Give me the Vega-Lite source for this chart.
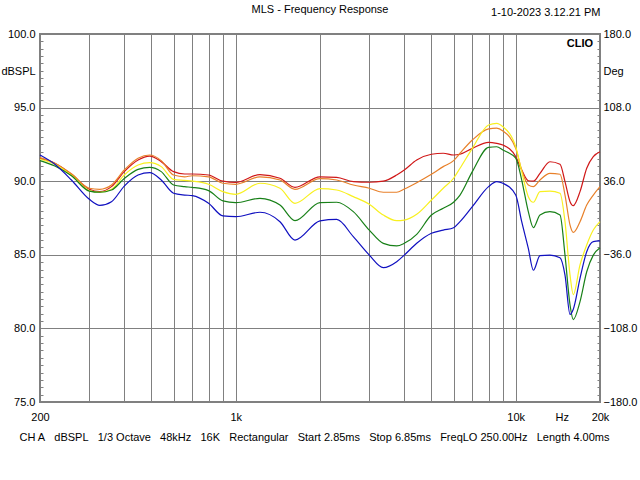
{
"$schema": "https://vega.github.io/schema/vega-lite/v6.json",
"width": 560, "height": 368,
"autosize": {"type": "none"},
"padding": {"left": 40, "top": 34, "right": 40, "bottom": 78},
"background": "white",
"title": {"text": "MLS - Frequency Response", "anchor": "middle", "frame": "group", "font": "Liberation Sans", "fontSize": 11, "fontWeight": "normal", "color": "black", "offset": 4, "dy": 13},
"config": {
  "view": {"stroke": "#808080", "strokeWidth": 2},
  "font": "Liberation Sans",
  "axis": {"labelFont": "Liberation Sans", "labelFontSize": 11, "labelColor": "black", "titleFont": "Liberation Sans", "titleFontSize": 11, "titleFontWeight": "normal", "titleColor": "black", "domain": false, "gridColor": "#808080", "gridWidth": 1, "tickColor": "#808080", "tickWidth": 1}
},
"layer": [
{
"data": {"values": [
{"curve":"1","freq":200,"db":91.56},{"curve":"1","freq":226,"db":91.22},{"curve":"1","freq":259,"db":90.47},{"curve":"1","freq":300,"db":89.45},{"curve":"1","freq":327,"db":89.29},{"curve":"1","freq":360,"db":89.63},{"curve":"1","freq":400,"db":90.65},{"curve":"1","freq":448,"db":91.44},{"curve":"1","freq":493,"db":91.71},{"curve":"1","freq":542,"db":91.33},{"curve":"1","freq":600,"db":90.65},{"curve":"1","freq":657,"db":90.49},{"curve":"1","freq":700,"db":90.49},{"curve":"1","freq":800,"db":90.42},{"curve":"1","freq":900,"db":90.0},{"curve":"1","freq":1000,"db":89.92},{"curve":"1","freq":1221,"db":90.45},{"curve":"1","freq":1439,"db":90.2},{"curve":"1","freq":1628,"db":89.58},{"curve":"1","freq":2000,"db":90.3},{"curve":"1","freq":2294,"db":90.26},{"curve":"1","freq":2630,"db":89.97},{"curve":"1","freq":3000,"db":89.93},{"curve":"1","freq":3366,"db":90.0},{"curve":"1","freq":3758,"db":90.42},{"curve":"1","freq":4000,"db":90.76},{"curve":"1","freq":4430,"db":91.44},{"curve":"1","freq":5000,"db":91.83},{"curve":"1","freq":5510,"db":91.9},{"curve":"1","freq":6000,"db":91.78},{"curve":"1","freq":6325,"db":91.83},{"curve":"1","freq":7000,"db":92.23},{"curve":"1","freq":8000,"db":92.64},{"curve":"1","freq":8552,"db":92.57},{"curve":"1","freq":9000,"db":92.46},{"curve":"1","freq":10000,"db":91.67},{"curve":"1","freq":10506,"db":90.76},{"curve":"1","freq":11092,"db":90.03},{"curve":"1","freq":11560,"db":90.0},{"curve":"1","freq":12210,"db":90.53},{"curve":"1","freq":13250,"db":91.32},{"curve":"1","freq":14394,"db":91.15},{"curve":"1","freq":14998,"db":89.97},{"curve":"1","freq":15632,"db":88.61},{"curve":"1","freq":16056,"db":88.34},{"curve":"1","freq":16968,"db":89.29},{"curve":"1","freq":17930,"db":90.88},{"curve":"1","freq":18926,"db":91.67},{"curve":"1","freq":20000,"db":92.0},
{"curve":"2","freq":200,"db":91.6},{"curve":"2","freq":226,"db":91.22},{"curve":"2","freq":259,"db":90.5},{"curve":"2","freq":300,"db":89.52},{"curve":"2","freq":327,"db":89.45},{"curve":"2","freq":360,"db":89.74},{"curve":"2","freq":400,"db":90.76},{"curve":"2","freq":448,"db":91.56},{"curve":"2","freq":493,"db":91.78},{"curve":"2","freq":542,"db":91.4},{"curve":"2","freq":600,"db":90.42},{"curve":"2","freq":657,"db":90.3},{"curve":"2","freq":700,"db":90.37},{"curve":"2","freq":800,"db":90.3},{"curve":"2","freq":900,"db":89.86},{"curve":"2","freq":1000,"db":89.79},{"curve":"2","freq":1221,"db":90.3},{"curve":"2","freq":1439,"db":90.08},{"curve":"2","freq":1628,"db":89.45},{"curve":"2","freq":2000,"db":90.18},{"curve":"2","freq":2294,"db":90.08},{"curve":"2","freq":2630,"db":89.74},{"curve":"2","freq":3000,"db":89.52},{"curve":"2","freq":3366,"db":89.25},{"curve":"2","freq":3758,"db":89.25},{"curve":"2","freq":4000,"db":89.47},{"curve":"2","freq":4430,"db":89.9},{"curve":"2","freq":5000,"db":90.47},{"curve":"2","freq":5510,"db":90.99},{"curve":"2","freq":6000,"db":91.4},{"curve":"2","freq":6325,"db":91.9},{"curve":"2","freq":7000,"db":92.8},{"curve":"2","freq":8000,"db":93.55},{"curve":"2","freq":8552,"db":93.6},{"curve":"2","freq":9000,"db":93.41},{"curve":"2","freq":10000,"db":92.23},{"curve":"2","freq":10506,"db":90.76},{"curve":"2","freq":11092,"db":89.74},{"curve":"2","freq":11560,"db":89.63},{"curve":"2","freq":12210,"db":90.08},{"curve":"2","freq":13250,"db":90.53},{"curve":"2","freq":14394,"db":90.47},{"curve":"2","freq":14998,"db":89.06},{"curve":"2","freq":15632,"db":87.02},{"curve":"2","freq":16056,"db":86.52},{"curve":"2","freq":16968,"db":87.25},{"curve":"2","freq":17930,"db":88.38},{"curve":"2","freq":18926,"db":89.06},{"curve":"2","freq":20000,"db":89.63},
{"curve":"3","freq":200,"db":91.49},{"curve":"3","freq":226,"db":91.15},{"curve":"3","freq":259,"db":90.4},{"curve":"3","freq":300,"db":89.36},{"curve":"3","freq":327,"db":89.25},{"curve":"3","freq":360,"db":89.45},{"curve":"3","freq":400,"db":90.42},{"curve":"3","freq":448,"db":91.1},{"curve":"3","freq":493,"db":91.26},{"curve":"3","freq":542,"db":90.99},{"curve":"3","freq":600,"db":90.12},{"curve":"3","freq":657,"db":90.05},{"curve":"3","freq":700,"db":90.0},{"curve":"3","freq":800,"db":89.79},{"curve":"3","freq":900,"db":89.29},{"curve":"3","freq":1000,"db":89.11},{"curve":"3","freq":1221,"db":89.86},{"curve":"3","freq":1439,"db":89.52},{"curve":"3","freq":1628,"db":88.5},{"curve":"3","freq":2000,"db":89.5},{"curve":"3","freq":2294,"db":89.4},{"curve":"3","freq":2630,"db":88.95},{"curve":"3","freq":3000,"db":88.43},{"curve":"3","freq":3366,"db":87.7},{"curve":"3","freq":3758,"db":87.32},{"curve":"3","freq":4000,"db":87.36},{"curve":"3","freq":4430,"db":87.75},{"curve":"3","freq":5000,"db":88.72},{"curve":"3","freq":5510,"db":89.52},{"curve":"3","freq":6000,"db":90.2},{"curve":"3","freq":6325,"db":90.88},{"curve":"3","freq":7000,"db":92.23},{"curve":"3","freq":8000,"db":93.82},{"curve":"3","freq":8552,"db":93.93},{"curve":"3","freq":9000,"db":93.7},{"curve":"3","freq":10000,"db":92.34},{"curve":"3","freq":10506,"db":90.65},{"curve":"3","freq":11092,"db":88.95},{"curve":"3","freq":11560,"db":88.57},{"curve":"3","freq":12210,"db":89.29},{"curve":"3","freq":13250,"db":89.33},{"curve":"3","freq":14394,"db":89.18},{"curve":"3","freq":14998,"db":87.25},{"curve":"3","freq":15632,"db":83.62},{"curve":"3","freq":16056,"db":82.3},{"curve":"3","freq":16968,"db":84.31},{"curve":"3","freq":17930,"db":85.67},{"curve":"3","freq":18926,"db":86.68},{"curve":"3","freq":20000,"db":87.25},
{"curve":"4","freq":200,"db":91.4},{"curve":"4","freq":226,"db":91.03},{"curve":"4","freq":259,"db":90.37},{"curve":"4","freq":300,"db":89.33},{"curve":"4","freq":327,"db":89.25},{"curve":"4","freq":360,"db":89.4},{"curve":"4","freq":400,"db":90.18},{"curve":"4","freq":448,"db":90.8},{"curve":"4","freq":493,"db":90.94},{"curve":"4","freq":542,"db":90.65},{"curve":"4","freq":600,"db":89.74},{"curve":"4","freq":657,"db":89.63},{"curve":"4","freq":700,"db":89.58},{"curve":"4","freq":800,"db":89.36},{"curve":"4","freq":900,"db":88.66},{"curve":"4","freq":1000,"db":88.54},{"curve":"4","freq":1221,"db":88.84},{"curve":"4","freq":1439,"db":88.38},{"curve":"4","freq":1628,"db":87.32},{"curve":"4","freq":2000,"db":88.55},{"curve":"4","freq":2294,"db":88.57},{"curve":"4","freq":2630,"db":87.93},{"curve":"4","freq":3000,"db":86.68},{"curve":"4","freq":3366,"db":85.78},{"curve":"4","freq":3758,"db":85.6},{"curve":"4","freq":4000,"db":85.78},{"curve":"4","freq":4430,"db":86.39},{"curve":"4","freq":5000,"db":87.7},{"curve":"4","freq":5510,"db":88.16},{"curve":"4","freq":6000,"db":88.57},{"curve":"4","freq":6325,"db":89.06},{"curve":"4","freq":7000,"db":90.65},{"curve":"4","freq":8000,"db":92.3},{"curve":"4","freq":8552,"db":92.34},{"curve":"4","freq":9000,"db":92.12},{"curve":"4","freq":10000,"db":91.56},{"curve":"4","freq":10506,"db":90.08},{"curve":"4","freq":11092,"db":87.93},{"curve":"4","freq":11560,"db":86.84},{"curve":"4","freq":12210,"db":87.7},{"curve":"4","freq":13250,"db":87.93},{"curve":"4","freq":14394,"db":87.7},{"curve":"4","freq":14998,"db":84.98},{"curve":"4","freq":15632,"db":81.59},{"curve":"4","freq":16056,"db":80.6},{"curve":"4","freq":16968,"db":81.82},{"curve":"4","freq":17930,"db":83.85},{"curve":"4","freq":18926,"db":84.98},{"curve":"4","freq":20000,"db":85.48},
{"curve":"5","freq":200,"db":91.78},{"curve":"5","freq":226,"db":91.15},{"curve":"5","freq":259,"db":90.08},{"curve":"5","freq":300,"db":88.77},{"curve":"5","freq":327,"db":88.36},{"curve":"5","freq":360,"db":88.61},{"curve":"5","freq":400,"db":89.67},{"curve":"5","freq":448,"db":90.42},{"curve":"5","freq":493,"db":90.58},{"curve":"5","freq":542,"db":90.08},{"curve":"5","freq":600,"db":89.18},{"curve":"5","freq":657,"db":89.06},{"curve":"5","freq":700,"db":89.02},{"curve":"5","freq":800,"db":88.5},{"curve":"5","freq":900,"db":87.64},{"curve":"5","freq":1000,"db":87.59},{"curve":"5","freq":1221,"db":87.89},{"curve":"5","freq":1439,"db":87.25},{"curve":"5","freq":1628,"db":86.0},{"curve":"5","freq":2000,"db":87.3},{"curve":"5","freq":2294,"db":87.4},{"curve":"5","freq":2630,"db":86.23},{"curve":"5","freq":3000,"db":84.98},{"curve":"5","freq":3366,"db":84.13},{"curve":"5","freq":3758,"db":84.53},{"curve":"5","freq":4000,"db":84.98},{"curve":"5","freq":4430,"db":85.78},{"curve":"5","freq":5000,"db":86.46},{"curve":"5","freq":5510,"db":86.68},{"curve":"5","freq":6000,"db":86.84},{"curve":"5","freq":6325,"db":87.25},{"curve":"5","freq":7000,"db":88.27},{"curve":"5","freq":8000,"db":89.63},{"curve":"5","freq":8552,"db":89.97},{"curve":"5","freq":9000,"db":89.86},{"curve":"5","freq":10000,"db":89.06},{"curve":"5","freq":10506,"db":87.25},{"curve":"5","freq":11092,"db":85.44},{"curve":"5","freq":11560,"db":83.95},{"curve":"5","freq":12210,"db":84.94},{"curve":"5","freq":13250,"db":84.98},{"curve":"5","freq":14394,"db":84.8},{"curve":"5","freq":14998,"db":83.62},{"curve":"5","freq":15632,"db":80.95},{"curve":"5","freq":16056,"db":81.3},{"curve":"5","freq":16968,"db":83.4},{"curve":"5","freq":17930,"db":85.21},{"curve":"5","freq":18926,"db":85.89},{"curve":"5","freq":20000,"db":85.94}
]},
"mark": {"type": "line", "interpolate": "monotone", "strokeWidth": 1.2},
"encoding": {
  "x": {"field": "freq", "type": "quantitative",
    "scale": {"type": "log", "domain": [200, 20000], "nice": false},
    "axis": {"orient": "bottom", "values": [200,300,400,500,600,700,800,900,1000,2000,3000,4000,5000,6000,7000,8000,9000,10000,14600,20000],
      "labelExpr": "datum.value == 200 ? '200' : datum.value == 1000 ? '1k' : datum.value == 10000 ? '10k' : datum.value == 14600 ? 'Hz' : datum.value == 20000 ? '20k' : ''",
      "labelFlush": false, "labelOverlap": false, "ticks": false, "labelPadding": 9, "labelAlign": "center",
      "grid": true, "gridOpacity": {"condition": {"test": "datum.value == 200 || datum.value == 14600 || datum.value == 20000", "value": 0}, "value": 1},
      "title": "CH A\u00a0\u00a0\u00a0dBSPL\u00a0\u00a0\u00a01/3 Octave\u00a0\u00a0\u00a048kHz\u00a0\u00a0\u00a016K\u00a0\u00a0\u00a0Rectangular\u00a0\u00a0\u00a0Start 2.85ms\u00a0\u00a0\u00a0Stop 6.85ms\u00a0\u00a0\u00a0FreqLO 250.00Hz\u00a0\u00a0\u00a0Length 4.00ms",
      "titleY": 35, "titleBaseline": "middle", "titleX": 274}},
  "y": {"field": "db", "type": "quantitative",
    "scale": {"domain": [75, 100], "nice": false, "zero": false},
    "axis": {"orient": "left", "values": [75,75.5,76,76.5,77,77.5,78,78.5,79,79.5,80,80.5,81,81.5,82,82.5,83,83.5,84,84.5,85,85.5,86,86.5,87,87.5,88,88.5,89,89.5,90,90.5,91,91.5,92,92.5,93,93.5,94,94.5,95,95.5,96,96.5,97,97.5,98,98.5,99,99.5,100],
      "labelExpr": "datum.value % 5 === 0 ? format(datum.value, '.1f') : ''",
      "labelOverlap": false, "labelFlush": false, "tickSize": -3, "labelPadding": 8,
      "grid": true, "gridOpacity": {"condition": {"test": "datum.value % 5 === 0 && datum.value > 75 && datum.value < 100", "value": 1}, "value": 0},
      "title": "dBSPL", "titleAngle": 0, "titleX": -22, "titleY": 37, "titleAlign": "center", "titleBaseline": "middle"}},
  "color": {"field": "curve", "type": "nominal",
    "scale": {"domain": ["1","2","3","4","5"], "range": ["#d01818", "#e8802a", "#f8f020", "#188018", "#1010c0"]},
    "legend": null}
}
},
{
"data": {"values": [{"label": "CLIO"}]},
"mark": {"type": "text", "align": "right", "baseline": "middle", "dx": -7, "dy": 10, "fontWeight": "bold", "fontSize": 11, "font": "Liberation Sans", "color": "black"},
"encoding": {
  "text": {"field": "label", "type": "nominal"},
  "x": {"datum": 20000, "type": "quantitative",
    "axis": {"orient": "top", "labels": false, "ticks": false, "grid": false, "domain": false,
      "title": "1-10-2023 3.12.21 PM", "titleAnchor": "end", "titleY": -22, "titleBaseline": "middle"}},
  "y": {"datum": 180, "type": "quantitative",
    "scale": {"domain": [-180, 180], "nice": false, "zero": false},
    "axis": {"orient": "right", "values": [-180,-172.8,-165.6,-158.4,-151.2,-144,-136.8,-129.6,-122.4,-115.2,-108,-100.8,-93.6,-86.4,-79.2,-72,-64.8,-57.6,-50.4,-43.2,-36,-28.8,-21.6,-14.4,-7.2,0,7.2,14.4,21.6,28.8,36,43.2,50.4,57.6,64.8,72,79.2,86.4,93.6,100.8,108,115.2,122.4,129.6,136.8,144,151.2,158.4,165.6,172.8,180],
      "labelExpr": "indexof([-180,-108,-36,36,108,180], datum.value) >= 0 ? format(datum.value, '.1f') : ''",
      "labelOverlap": false, "labelFlush": false, "tickSize": -3, "labelPadding": 6, "grid": false,
      "title": "Deg", "titleAngle": 0, "titleX": 3, "titleY": 37, "titleAlign": "left", "titleBaseline": "middle"}}
}
}
],
"resolve": {"scale": {"y": "independent"}, "axis": {"x": "independent", "y": "independent"}}
}
